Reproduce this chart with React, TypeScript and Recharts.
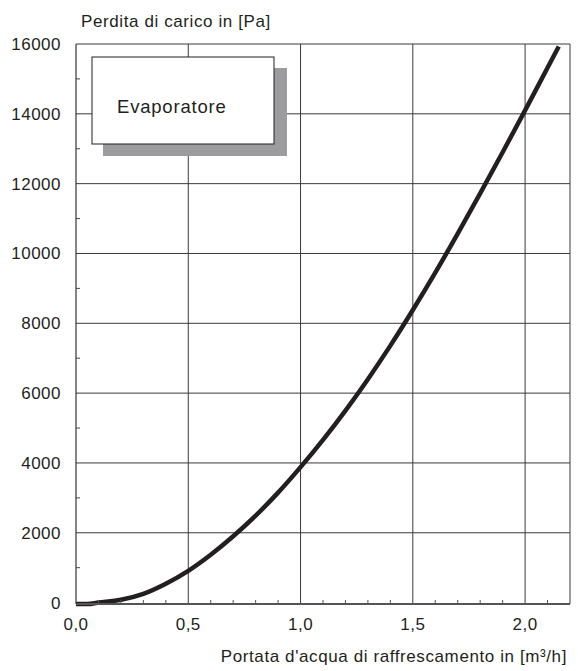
import React from 'react';
import { LineChart, Line, XAxis, YAxis, ReferenceLine } from 'recharts';

// Water flow rate [m³/h]
const flowRate = [0, 0.05, 0.1, 0.2, 0.3, 0.4, 0.5, 0.6, 0.7, 0.8, 0.9, 1.0, 1.1, 1.2, 1.3, 1.4, 1.5, 1.6, 1.7, 1.8, 1.9, 2.0, 2.1, 2.15];
// Pressure drop [Pa]
const pressureDrop = [-40, -40, 0, 80, 250, 540, 910, 1370, 1900, 2490, 3150, 3880, 4660, 5500, 6400, 7360, 8380, 9450, 10570, 11720, 12900, 14100, 15320, 15930];

const xTicks = [0, 0.1, 0.2, 0.3, 0.4, 0.5, 0.6, 0.7, 0.8, 0.9, 1.0, 1.1, 1.2, 1.3, 1.4, 1.5, 1.6, 1.7, 1.8, 1.9, 2.0, 2.1];
const xLabelTicks = [0, 0.5, 1.0, 1.5, 2.0];
const xGrid = [0.5, 1.0, 1.5, 2.0, 2.2];
const yTicks = [0, 1000, 2000, 3000, 4000, 5000, 6000, 7000, 8000, 9000, 10000, 11000, 12000, 13000, 14000, 15000, 16000];
const yLabelTicks = [0, 2000, 4000, 6000, 8000, 10000, 12000, 14000, 16000];
const yGrid = [2000, 4000, 6000, 8000, 10000, 12000, 14000, 16000];

const yTitle = 'Perdita di carico in [Pa]';
const xTitle = "Portata d'acqua di raffrescamento in [m³/h]";
const legendLabel = 'Evaporatore';

const data = flowRate.map((q, i) => ({ q, dp: pressureDrop[i] }));

const FONT = '"Liberation Sans", Arial, Helvetica, sans-serif';
const TEXT = '#231f20';

const XTick = (props: any) => {
  const { x, y, payload } = props;
  const v = payload.value;
  if (xLabelTicks.includes(v)) {
    return (
      <text x={x} y={y + 26} textAnchor="middle" fontSize={17} fontFamily={FONT} fill={TEXT} letterSpacing={0.5}>
        {v.toFixed(1).replace('.', ',')}
      </text>
    );
  }
  return <line x1={x} x2={x} y1={y} y2={y - 4} stroke="#555" strokeWidth={1} />;
};

const YTick = (props: any) => {
  const { x, y, payload } = props;
  const v = payload.value;
  if (yLabelTicks.includes(v)) {
    return (
      <text x={x - 15} y={y + 6} textAnchor="end" fontSize={17} fontFamily={FONT} fill={TEXT} letterSpacing={0.5}>
        {String(v)}
      </text>
    );
  }
  return <line x1={x} x2={x + 4} y1={y} y2={y} stroke="#444" strokeWidth={1} />;
};

export default function App() {
  return (
    <div style={{ position: 'absolute', left: 0, top: 0, width: 578, height: 671, background: '#fff' }}>
      <LineChart
        width={578}
        height={671}
        data={data}
        margin={{ top: 44, right: 8, bottom: 37, left: 16 }}
      >
        {xGrid.map((g) => (
          <ReferenceLine key={'vx' + g} x={g} stroke="#3a3a3a" strokeWidth={1} ifOverflow="visible" />
        ))}
        {yGrid.map((g) => (
          <ReferenceLine key={'hy' + g} y={g} stroke="#3a3a3a" strokeWidth={1} ifOverflow="visible" />
        ))}
        <XAxis
          dataKey="q"
          type="number"
          domain={() => [0, 2.2]}
          ticks={xTicks}
          interval={0}
          tickSize={0}
          tickMargin={0}
          tickLine={false}
          tick={<XTick />}
          height={30}
          axisLine={{ stroke: '#555', strokeWidth: 2 }}
        />
        <YAxis
          type="number"
          domain={() => [0, 16000]}
          ticks={yTicks}
          interval={0}
          tickSize={0}
          tickMargin={0}
          tickLine={false}
          tick={<YTick />}
          width={60}
          axisLine={{ stroke: '#333', strokeWidth: 1.2 }}
        />
        <Line
          type="monotone"
          dataKey="dp"
          stroke="#231f20"
          strokeWidth={4.5}
          dot={false}
          activeDot={false}
          isAnimationActive={false}
        />
      </LineChart>
      <svg width={578} height={671} style={{ position: 'absolute', left: 0, top: 0, pointerEvents: 'none' }}>
        <text x={81} y={27} fontSize={17} fontFamily={FONT} fill={TEXT} letterSpacing={0.6}>
          {yTitle}
        </text>
        <text x={567} y={662} textAnchor="end" fontSize={17} fontFamily={FONT} fill={TEXT} letterSpacing={0.6}>
          {xTitle}
        </text>
        <rect x={103} y={68} width={184} height={88} fill="#9c9c9e" />
        <rect x={92} y={57} width={182} height={87} fill="#fff" stroke="#231f20" strokeWidth={1} />
        <text x={117} y={113} fontSize={18.5} fontFamily={FONT} fill={TEXT} letterSpacing={0.8}>
          {legendLabel}
        </text>
      </svg>
    </div>
  );
}
